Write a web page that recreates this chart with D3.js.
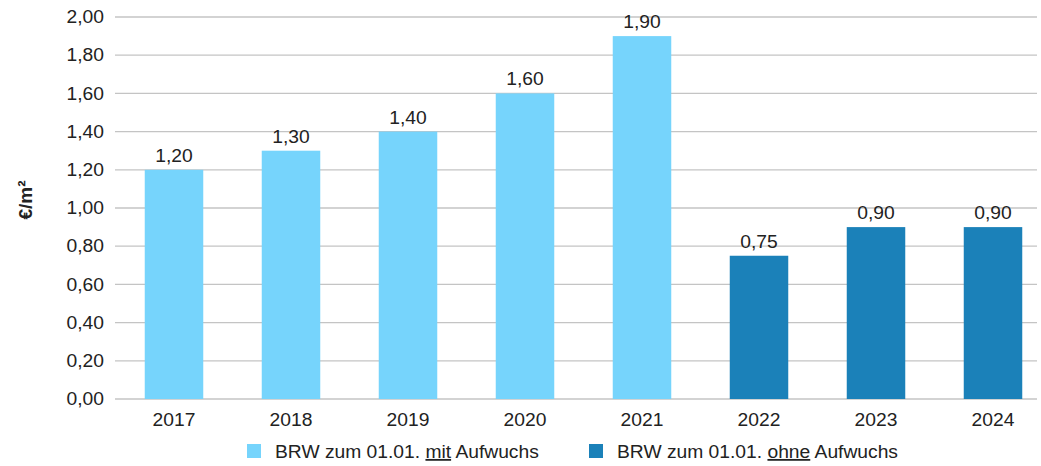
<!DOCTYPE html>
<html>
<head>
<meta charset="utf-8">
<script src="https://cdn.jsdelivr.net/npm/d3@7"></script>
<style>
  html, body { margin: 0; padding: 0; background: #fff; }
  svg { display: block; font-family: "Liberation Sans", Arial, sans-serif; }
</style>
</head>
<body>
<svg id="chart" width="1041" height="466"></svg>
<script>
// Bodenrichtwerte (€/m²) je Stichtag 01.01.
const years = ["2017", "2018", "2019", "2020", "2021", "2022", "2023", "2024"];
const values = [1.20, 1.30, 1.40, 1.60, 1.90, 0.75, 0.90, 0.90];
const seriesOf = ["mit", "mit", "mit", "mit", "mit", "ohne", "ohne", "ohne"];
const yTicks = [0, 0.2, 0.4, 0.6, 0.8, 1.0, 1.2, 1.4, 1.6, 1.8, 2.0];
const legendItems = [
  { key: "mit", pre: "BRW zum 01.01. ", word: "mit", post: " Aufwuchs" },
  { key: "ohne", pre: "BRW zum 01.01. ", word: "ohne", post: " Aufwuchs" }
];

const colors = { mit: "#76d4fc", ohne: "#1b81b9" };
const fmt = v => d3.format(".2f")(v).replace(".", ",");
const FS = 18;          // label font size
const SX = 1.07;        // slight horizontal widening of the glyphs
const textColor = "#222";

const svg = d3.select("#chart");
const gridLeft = 115, gridRight = 1037;
const yTop = 17, yBottom = 399;

const x = d3.scaleBand().domain(years).range([115.5, 1051.5]).paddingInner(0.5).paddingOuter(0.25);
const y = d3.scaleLinear().domain([0, 2]).range([yBottom, yTop]);

// horizontal gridlines
svg.append("g").selectAll("line").data(yTicks).join("line")
  .attr("x1", gridLeft).attr("x2", gridRight)
  .attr("y1", d => y(d)).attr("y2", d => y(d))
  .attr("stroke", "#c4c4c4").attr("stroke-width", 1.3);

// y axis tick labels
const yAxis = d3.axisLeft(y).tickValues(yTicks).tickFormat(fmt).tickSize(0).tickPadding(0);
const ya = svg.append("g").attr("transform", "translate(104,0)").call(yAxis);
ya.select(".domain").remove();
ya.selectAll("text")
  .attr("font-size", FS).attr("fill", textColor)
  .attr("font-family", "Liberation Sans, Arial, sans-serif")
  .attr("transform", `scale(${SX},1)`);

// axis title
svg.append("text")
  .attr("transform", "translate(32,200) rotate(-90)")
  .attr("text-anchor", "middle")
  .attr("font-size", 19).attr("font-weight", "bold").attr("fill", textColor)
  .text("€/m²");

// bars
svg.append("g").selectAll("rect").data(years).join("rect")
  .attr("x", d => x(d))
  .attr("width", x.bandwidth())
  .attr("y", (d, i) => y(values[i]))
  .attr("height", (d, i) => y(0) - y(values[i]))
  .attr("fill", (d, i) => colors[seriesOf[i]]);

// value labels
svg.append("g").selectAll("text").data(years).join("text")
  .attr("transform", (d, i) => `translate(${x(d) + x.bandwidth() / 2},${y(values[i]) - 8}) scale(${SX},1)`)
  .attr("text-anchor", "middle")
  .attr("font-size", FS).attr("fill", textColor)
  .text((d, i) => fmt(values[i]));

// x axis labels
const xAxis = d3.axisBottom(x).tickSize(0).tickPadding(0);
const xa = svg.append("g").attr("transform", `translate(0,${yBottom})`).call(xAxis);
xa.select(".domain").remove();
xa.selectAll("text")
  .attr("font-size", FS).attr("fill", textColor)
  .attr("font-family", "Liberation Sans, Arial, sans-serif")
  .attr("y", 0).attr("dy", null)
  .attr("transform", `translate(0,27) scale(${SX},1)`);

// legend
const legendX = [247, 589];
legendItems.forEach((item, i) => {
  const g = svg.append("g").attr("transform", `translate(${legendX[i]},444)`);
  g.append("rect").attr("width", 14).attr("height", 14).attr("fill", colors[item.key]);
  const t = g.append("text")
    .attr("transform", `translate(28,14) scale(${SX},1)`)
    .attr("font-size", FS).attr("fill", textColor);
  t.append("tspan").text(item.pre);
  t.append("tspan").attr("text-decoration", "underline").text(item.word);
  t.append("tspan").text(item.post);
});
</script>
</body>
</html>
